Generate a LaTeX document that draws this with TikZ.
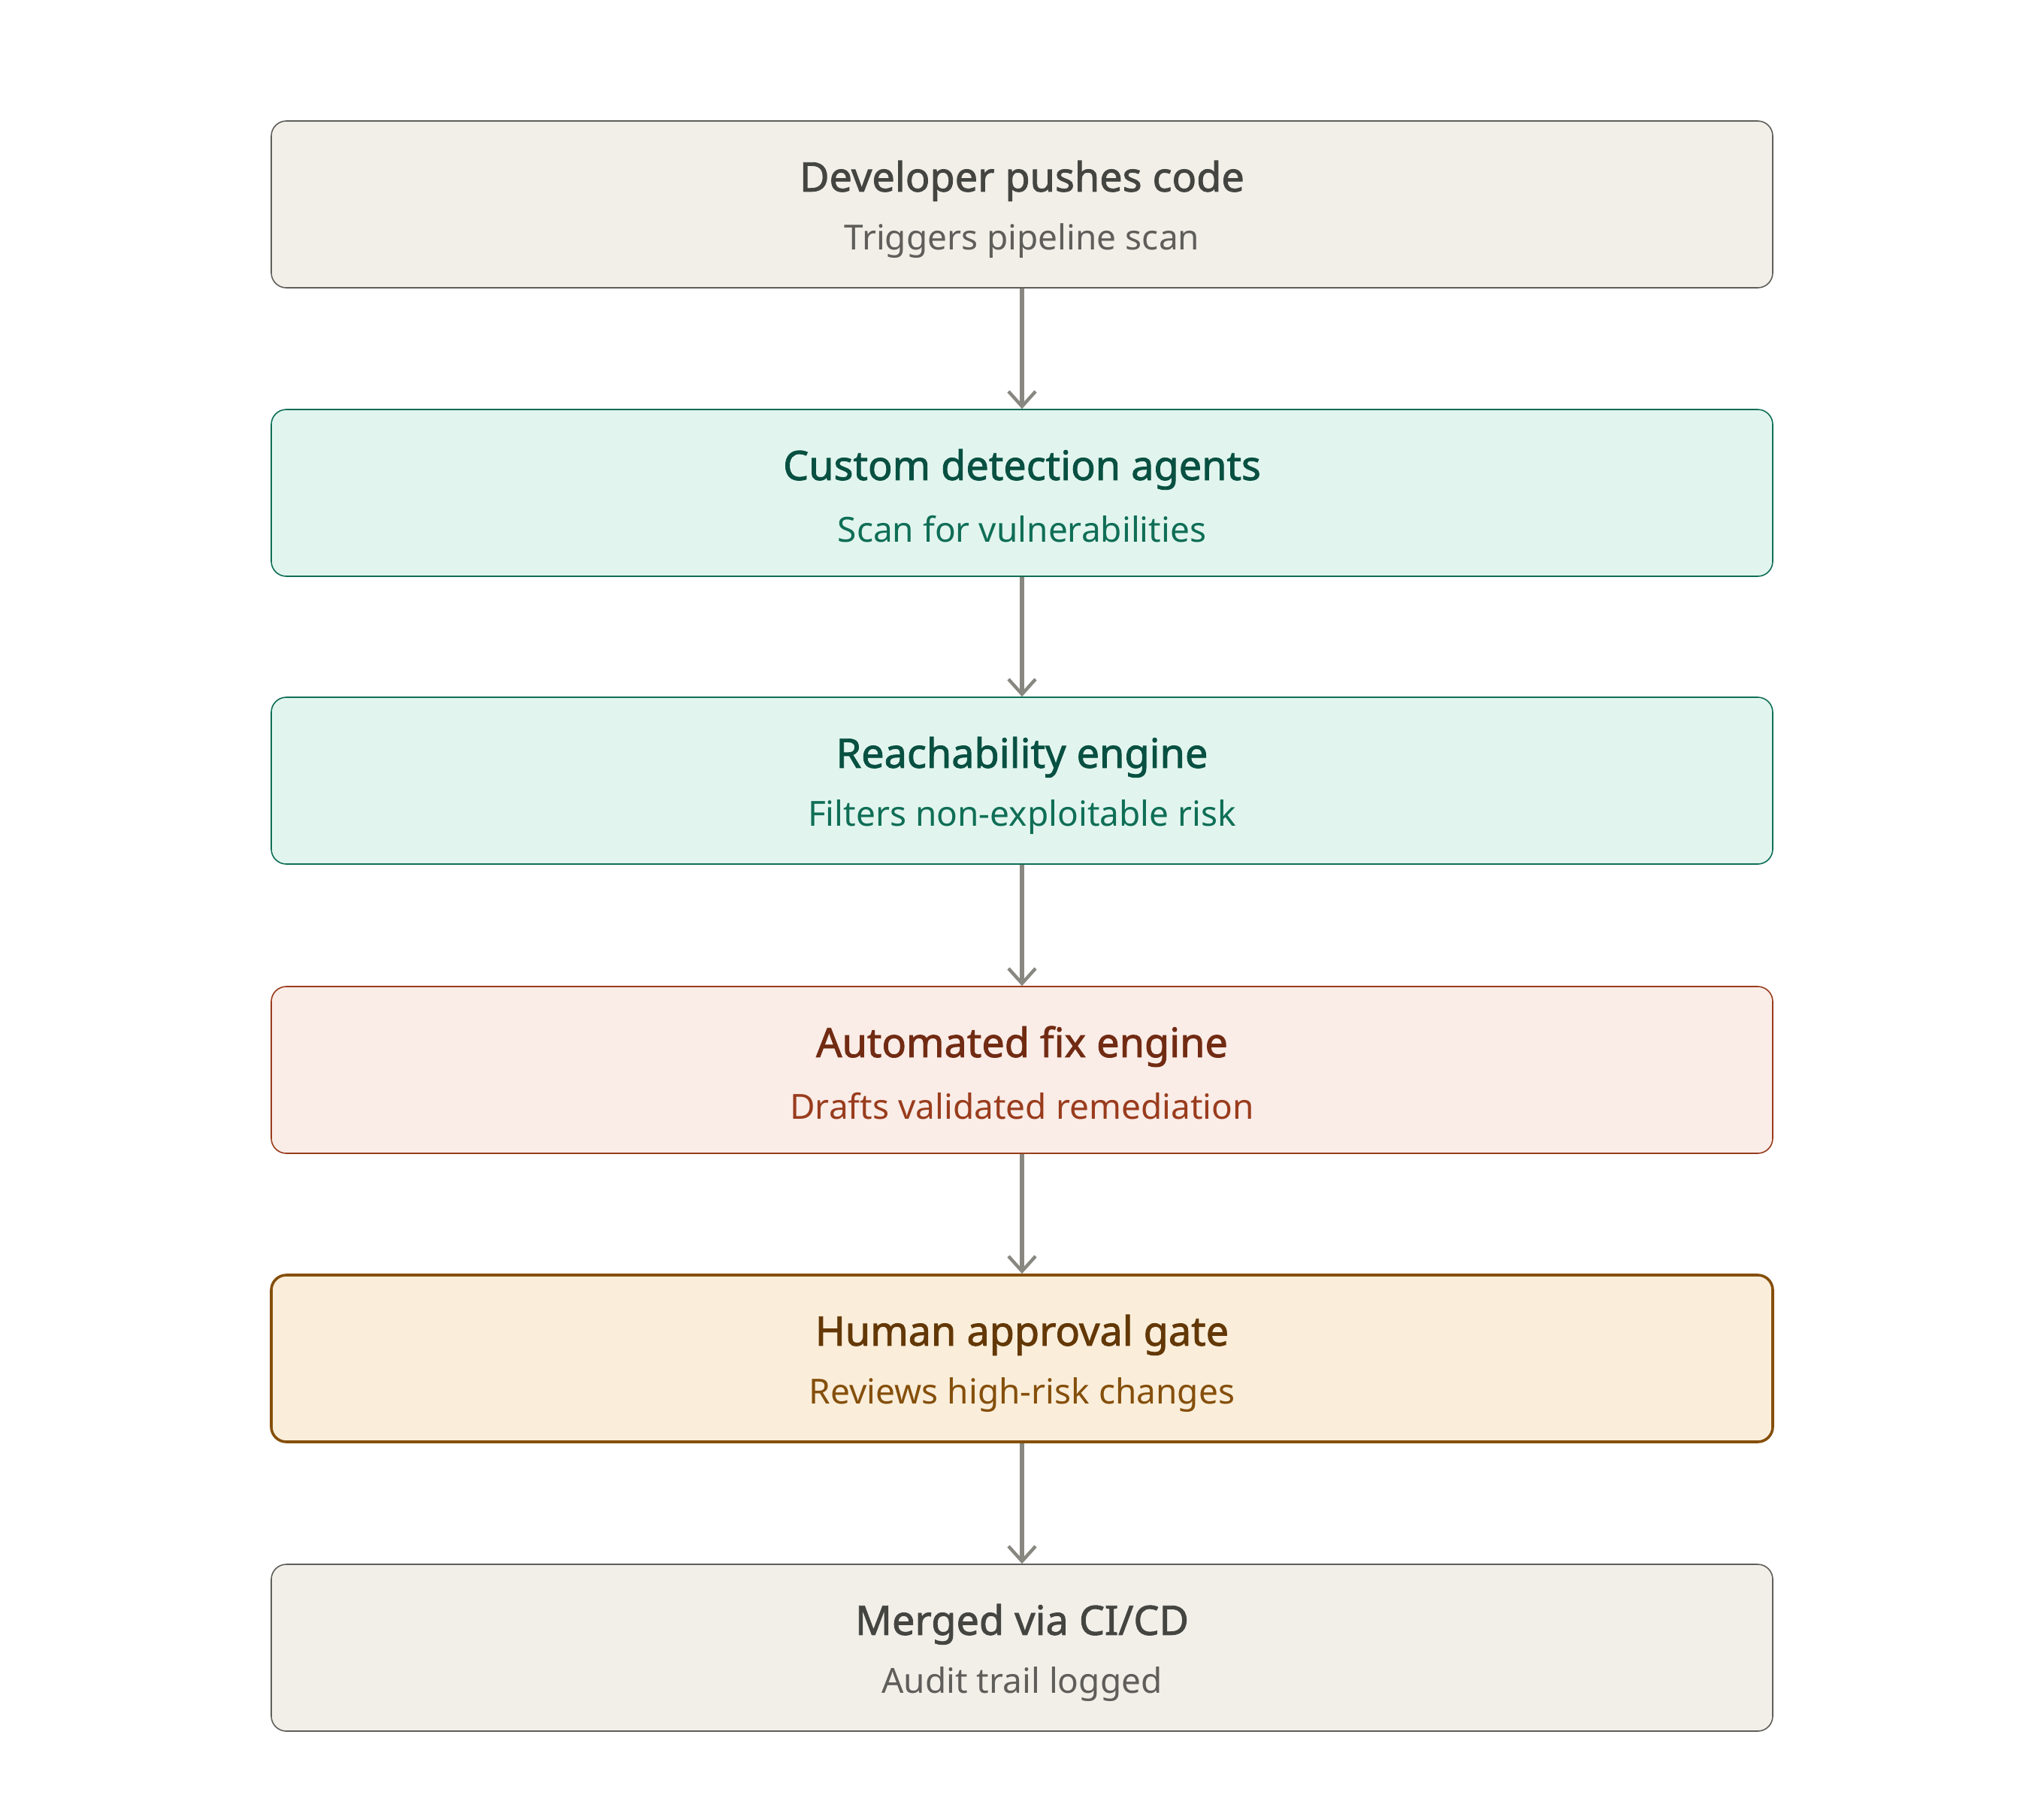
\documentclass[tikz,border=0pt]{standalone}
\usepackage{fontspec}
\setmainfont{Noto Sans}[BoldFont={Noto Sans}, BoldFeatures={FakeBold=1.6}]
\usetikzlibrary{arrows.meta}
\definecolor{gF}{HTML}{F1EFE8}\definecolor{gB}{HTML}{5F5E5A}\definecolor{gT}{HTML}{444441}
\definecolor{tF}{HTML}{E1F5EE}\definecolor{tB}{HTML}{0F6E56}\definecolor{tT}{HTML}{085041}
\definecolor{rF}{HTML}{FAECE7}\definecolor{rB}{HTML}{993C1D}\definecolor{rT}{HTML}{712B13}
\definecolor{aF}{HTML}{FAEEDA}\definecolor{aB}{HTML}{854F0B}\definecolor{aT}{HTML}{633806}
\definecolor{arr}{HTML}{888780}
\tikzset{
 box/.style={draw, rounded corners=5pt, minimum width=499.5pt, minimum height=55.5pt, line width=0.4pt},
 gray/.style={box, fill=gF, draw=gB},
 teal/.style={box, fill=tF, draw=tB},
 red/.style={box, fill=rF, draw=rB},
 amber/.style={box, fill=aF, draw=aB, line width=0.9pt},
 ttl/.style={font=\fontsize{13.5}{16}\selectfont\bfseries, anchor=center},
 sub/.style={font=\fontsize{11.5}{14}\selectfont, anchor=center},
 conn/.style={draw=arr, line width=1.3pt, -{Straight Barb[length=5pt,width=9pt,line width=1.1pt]}}
}
\begin{document}
\begin{tikzpicture}[x=1pt,y=1pt]
\useasboundingbox (0,0) rectangle (680,-600);
\def\bx{340}
\foreach \n/\y/\s/\c/\t/\u in {
 a/68/gray/g/{Developer pushes code}/{Triggers pipeline scan},
 b/164/teal/t/{Custom detection agents}/{Scan for vulnerabilities},
 c/259.75/teal/t/{Reachability engine}/{Filters non-exploitable risk},
 d/356/red/r/{Automated fix engine}/{Drafts validated remediation},
 e/452/amber/a/{Human approval gate}/{Reviews high-risk changes},
 f/548.25/gray/g/{Merged via CI/CD}/{Audit trail logged}}{
 \node[\s] (\n) at (\bx,-\y) {};
 \node[ttl, text=\c T] (\n t) at (\bx,-\y+7.8) {\t};
 \node[sub, text=\c B] (\n s) at (\bx,-\y-12.1) {\u};
}
\foreach \p/\q in {a/b,b/c,c/d,d/e,e/f}{
 \draw[conn] (\p.south) -- (\q.north);
}
\end{tikzpicture}
\end{document}
